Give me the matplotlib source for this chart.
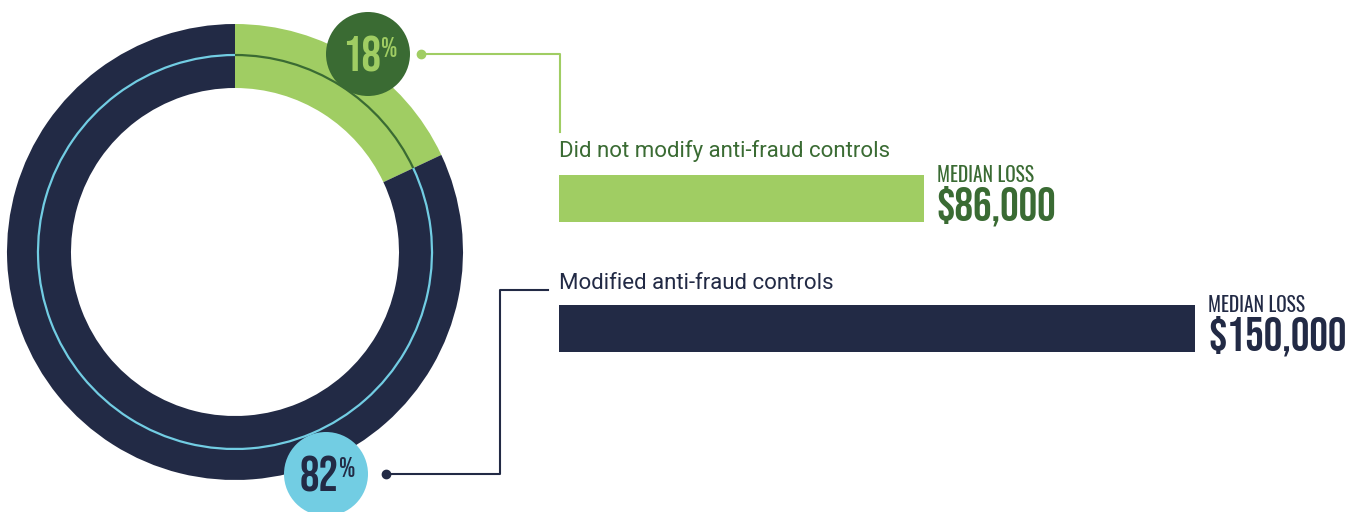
import matplotlib
matplotlib.use("Agg")
import matplotlib.pyplot as plt
from matplotlib.patches import Wedge, Arc, Circle

# data
groups = ["Did not modify anti-fraud controls", "Modified anti-fraud controls"]
shares = [18, 82]
median_loss = [86000, 150000]
loss_labels = ["$86,000", "$150,000"]

navy = "#222a45"
green = "#a0cd63"
dkgreen = "#3a6b33"
ltblue = "#72cde3"

cond = ["Bebas Neue", "DejaVu Sans"]
light = ["Oswald", "Bebas Neue", "DejaVu Sans"]
body = ["Roboto", "DejaVu Sans"]

fig = plt.figure(figsize=(13.61, 5.12), dpi=100)
ax = fig.add_axes([0, 0, 1, 1])
ax.set_xlim(0, 1361)
ax.set_ylim(512, 0)
ax.axis("off")

# donut, starting at top and going clockwise
cx, cy, R, r, rl = 235, 252, 228, 164, 197
t0 = -90
a = t0 + 360 * shares[0] / 100
ax.add_patch(Wedge((cx, cy), R, t0, a, width=R - r, color=green, lw=0))
ax.add_patch(Wedge((cx, cy), R, a, t0 + 360, width=R - r, color=navy, lw=0))
ax.add_patch(Arc((cx, cy), 2 * rl, 2 * rl, theta1=t0, theta2=a, color=dkgreen, lw=1.6))
ax.add_patch(Arc((cx, cy), 2 * rl, 2 * rl, theta1=a, theta2=t0 + 360, color=ltblue, lw=1.6))

# percentage bubbles
bubbles = [(368, 54, dkgreen, green), (326, 474, ltblue, navy)]
for (bx, by, fc, tc), s in zip(bubbles, shares):
    ax.add_patch(Circle((bx, by), 42, color=fc, lw=0, zorder=3))
    ax.text(bx + 13, by + 17, str(s), family=cond, fontsize=35,
            color=tc, ha="right", va="baseline", zorder=4)
    ax.text(bx + 13, by - 17, "%", family=cond, fontsize=20,
            color=tc, ha="left", va="top", zorder=4)

# leader lines
ax.plot([421, 560, 560], [54, 54, 132], color=green, lw=1.5)
ax.plot([421], [54], "o", color=green, ms=6)
ax.plot([386, 500, 500, 548], [474, 474, 290, 290], color=navy, lw=1.5)
ax.plot([386], [474], "o", color=navy, ms=6)

# bars
x0 = 559
scale = 636 / 150000
bar_y = [198.5, 328.5]
cols = [green, navy]
tcols = [dkgreen, navy]
ax.barh(bar_y, [v * scale for v in median_loss], left=x0, height=47, color=cols, lw=0)
label_y = [157, 289]
for i in range(2):
    ax.text(x0, label_y[i], groups[i], family=body, fontsize=16, color=tcols[i],
            ha="left", va="baseline")
    xe = x0 + median_loss[i] * scale + 13
    ax.text(xe, bar_y[i] - 17, "MEDIAN LOSS", family=light, weight="light", fontsize=14,
            color=tcols[i], ha="left", va="baseline")
    ax.text(xe, bar_y[i] + 22.5, loss_labels[i], family=cond, fontsize=33.5,
            color=tcols[i], ha="left", va="baseline")

fig.savefig("out.png", dpi=100)
